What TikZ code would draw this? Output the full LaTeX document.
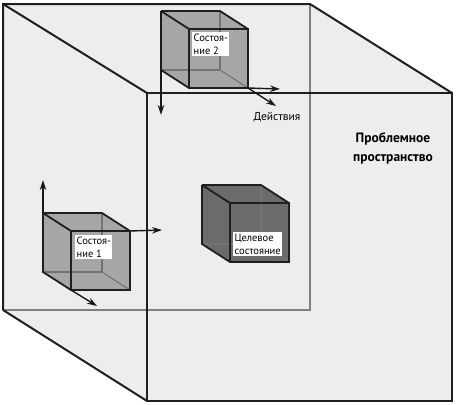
\documentclass[tikz,border=0pt]{standalone}
\usepackage{fontspec}
\setmainfont{PT Sans}
\usetikzlibrary{arrows.meta,calc}
\newcommand\mkcube[4]{%
  \coordinate (#1b1) at (#2,#3);
  \coordinate (#1b2) at ($(#1b1)+(59,0)$);
  \coordinate (#1b3) at ($(#1b1)+(59,59)$);
  \coordinate (#1b4) at ($(#1b1)+(0,59)$);
  \coordinate (#1f1) at ($(#1b1)+(28,18)$);
  \coordinate (#1f2) at ($(#1f1)+(59,0)$);
  \coordinate (#1f3) at ($(#1f1)+(59,59)$);
  \coordinate (#1f4) at ($(#1f1)+(0,59)$);
  \fill[#4] (#1b1) -- (#1b2) -- (#1f2) -- (#1f3) -- (#1f4) -- (#1b4) -- cycle;
  \draw[hid] (#1b2) -- (#1b3) -- (#1b4);
  \draw[hid] (#1b3) -- (#1f3);
  \draw[edge] (#1b1) -- (#1b2) -- (#1f2) (#1b1) -- (#1b4) -- (#1f4) (#1b1) -- (#1f1);
  \draw[edge] (#1f1) rectangle (#1f3);
}
\begin{document}
\begin{tikzpicture}[x=1pt,y=-1pt,
  edge/.style={line width=1.8pt, draw=black!88, line join=miter},
  hid/.style={line width=1.1pt, draw=black!55},
  bigedge/.style={line width=2pt, draw=black!88},
  bighid/.style={line width=1.4pt, draw=black!50},
  axis/.style={line width=1.4pt, draw=black!90, -{Stealth[length=10pt,width=6.5pt]}},
  lbl/.style={fill=white, inner sep=1.5pt, align=left, anchor=north west, font=\fontsize{10.5}{13}\selectfont},
  title/.style={align=center, font=\bfseries\fontsize{13.5}{19}\selectfont}]
\useasboundingbox (0,0) rectangle (456,405);
% big cube
\coordinate (B1) at (3,4);
\coordinate (B2) at (310,4);
\coordinate (B3) at (310,310);
\coordinate (B4) at (3,310);
\coordinate (F1) at (147,93);
\coordinate (F2) at (452,93);
\coordinate (F3) at (452,401);
\coordinate (F4) at (147,401);
\fill[black!7] (B1) -- (B2) -- (F2) -- (F3) -- (F4) -- (B4) -- cycle;
\draw[bighid] (B2) -- (B3) -- (B4);
\draw[bigedge] (B4) -- (B1) -- (B2) -- (F2);
\draw[bigedge] (B1) -- (F1) (B4) -- (F4);
\draw[bigedge] (F1) rectangle (F3);
% small cubes
\mkcube{c}{161}{11}{black!35}
\mkcube{a}{43}{213}{black!35}
\mkcube{t}{202}{185}{black!58}
% arrows cube 1
\coordinate (a1) at (43,180);
\coordinate (a2) at (162,230);
\coordinate (a3) at (97,306);
\draw[axis] (ab1) -- (a1);
\draw[axis] (af2) -- (a2);
\draw[axis] (af4) -- (a3);
% arrows cube 2
\coordinate (c1) at (161,115);
\coordinate (c2) at (280,89);
\coordinate (c3) at (276,106);
\draw[axis] (cb1) -- (c1);
\draw[axis] (cf3) -- (c2);
\draw[axis] (cf3) -- (c3);
% labels
\node[lbl] (l2) at (192,32) {Состоя-\\ние 2};
\node[lbl] (l1) at (75,235) {Состоя-\\ние 1};
\node[lbl] (lt) at (233,232) {Целевое\\состояние};
\node[font=\fontsize{11.5}{13}\selectfont] (act) at (277,117) {Действия};
\node[title] (ps) at (393,148) {Проблемное\\пространство};
\end{tikzpicture}
\end{document}
